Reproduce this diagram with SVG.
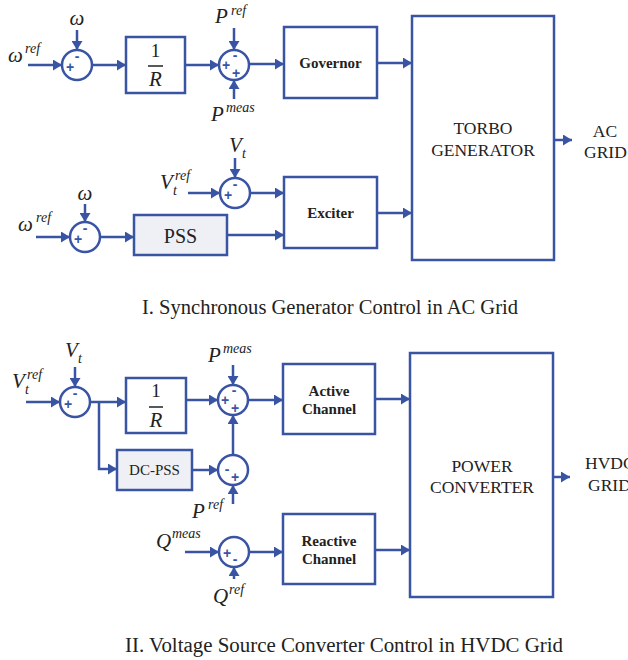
<svg xmlns="http://www.w3.org/2000/svg" width="628" height="660" viewBox="0 0 628 660">
<defs>
<marker id="ah" markerUnits="userSpaceOnUse" markerWidth="10" markerHeight="11" refX="9" refY="5.5" orient="auto">
<path d="M0,0 L9,5.5 L0,11 z" fill="#3A54A4"/>
</marker>
</defs>
<style>
.ln{fill:none;stroke:#3A54A4;stroke-width:2.5}
.ar{fill:none;stroke:#3A54A4;stroke-width:2.5;marker-end:url(#ah)}
.bx{fill:#fff;stroke:#3A54A4;stroke-width:2.5}
.gb{fill:#EEF0F5;stroke:#3A54A4;stroke-width:2.5}
.sm{fill:#fff;stroke:#3A54A4;stroke-width:2.5}
.sg{font-family:"Liberation Sans",Arial,sans-serif;font-size:14px;font-weight:bold;fill:#3A54A4;text-anchor:middle}
.m{font-family:"Liberation Serif","Times New Roman",serif;font-style:italic;font-size:21px;fill:#222}
.sp{font-family:"Liberation Serif","Times New Roman",serif;font-style:italic;font-size:14px;fill:#222}
.b{font-family:"Liberation Serif","Times New Roman",serif;font-weight:bold;font-size:15px;fill:#222;text-anchor:middle}
.t{font-family:"Liberation Serif","Times New Roman",serif;font-size:17.5px;fill:#222;text-anchor:middle}
.ts{font-family:"Liberation Serif","Times New Roman",serif;font-size:17.5px;fill:#222}
.cap{font-family:"Liberation Serif","Times New Roman",serif;font-size:20px;fill:#222}
</style>

<g id="connectors">
<!-- top section -->
<line class="ar" x1="28" y1="65" x2="62" y2="65"/>
<line class="ar" x1="77" y1="30" x2="77" y2="50"/>
<line class="ar" x1="92" y1="65" x2="126" y2="65"/>
<line class="ar" x1="185" y1="65" x2="219" y2="65"/>
<line class="ar" x1="234" y1="28" x2="234" y2="50"/>
<line class="ar" x1="234" y1="99" x2="234" y2="80"/>
<line class="ar" x1="249" y1="64" x2="284" y2="64"/>
<line class="ar" x1="377" y1="63" x2="412" y2="63"/>
<line class="ar" x1="554" y1="140" x2="572" y2="140"/>
<line class="ar" x1="235" y1="158" x2="235" y2="178"/>
<line class="ar" x1="188" y1="193" x2="220" y2="193"/>
<line class="ar" x1="250" y1="193" x2="284" y2="193"/>
<line class="ar" x1="377" y1="213" x2="412" y2="213"/>
<line class="ar" x1="85" y1="204" x2="85" y2="222"/>
<line class="ar" x1="36" y1="237" x2="70" y2="237"/>
<line class="ar" x1="100" y1="237" x2="134" y2="237"/>
<line class="ar" x1="227" y1="235" x2="284" y2="235"/>
<!-- bottom section -->
<line class="ar" x1="26" y1="402" x2="60" y2="402"/>
<line class="ar" x1="75" y1="367" x2="75" y2="387"/>
<line class="ar" x1="90" y1="402" x2="126" y2="402"/>
<polyline class="ar" points="99,402 99,469 117,469"/>
<line class="ar" x1="186" y1="400" x2="218" y2="400"/>
<line class="ar" x1="233" y1="365" x2="233" y2="385"/>
<line class="ar" x1="248" y1="400" x2="283" y2="400"/>
<line class="ar" x1="375" y1="399" x2="410" y2="399"/>
<line class="ar" x1="192" y1="470" x2="218" y2="470"/>
<line class="ar" x1="233" y1="455" x2="233" y2="415"/>
<line class="ar" x1="233" y1="504" x2="233" y2="485"/>
<line class="ar" x1="185" y1="552" x2="219" y2="552"/>
<line class="ar" x1="234" y1="579" x2="234" y2="567"/>
<line class="ar" x1="249" y1="552" x2="283" y2="552"/>
<line class="ar" x1="375" y1="550" x2="410" y2="550"/>
<line class="ar" x1="553" y1="477" x2="570" y2="477"/>
</g>

<!-- top section nodes -->
<g id="in-omega-ref1"><text class="m" x="8" y="62">ω</text><text class="sp" x="25" y="53">ref</text></g>
<g id="in-omega1"><text class="m" x="77" y="25" text-anchor="middle">ω</text></g>
<g id="sum1"><circle class="sm" cx="77" cy="65" r="15"/><text class="sg" x="77" y="61">-</text><text class="sg" x="70" y="72">+</text></g>
<g id="droop1"><rect class="bx" x="126" y="37" width="59" height="56"/>
<text class="ts" x="155.5" y="57" text-anchor="middle" style="font-size:19px">1</text>
<line x1="148" y1="66" x2="163" y2="66" stroke="#222" stroke-width="1.5"/>
<text class="m" x="155.5" y="86" text-anchor="middle">R</text></g>
<g id="in-pref1"><text class="m" x="215" y="23">P</text><text class="sp" x="231" y="15">ref</text></g>
<g id="in-pmeas1"><text class="m" x="211" y="121">P</text><text class="sp" x="226" y="112">meas</text></g>
<g id="sum2"><circle class="sm" cx="234" cy="65" r="15"/><text class="sg" x="235" y="60">-</text><text class="sg" x="226" y="70">+</text><text class="sg" x="236" y="78">+</text></g>
<g id="governor"><rect class="bx" x="284" y="27" width="93" height="71"/><text class="b" x="330.5" y="68">Governor</text></g>
<g id="torbo"><rect class="bx" x="412" y="16" width="142" height="244"/><text class="t" x="483" y="134">TORBO</text><text class="t" x="483" y="156">GENERATOR</text></g>
<g id="ac-grid"><text class="t" x="605" y="137">AC</text><text class="ts" x="584" y="158">GRID</text></g>
<g id="in-vt1"><text class="m" x="229" y="152">V</text><text class="sp" x="242" y="158">t</text></g>
<g id="in-vtref1"><text class="m" x="160" y="189">V</text><text class="sp" x="173" y="195">t</text><text class="sp" x="175" y="180">ref</text></g>
<g id="sum3"><circle class="sm" cx="235" cy="193" r="15"/><text class="sg" x="235" y="189">-</text><text class="sg" x="228" y="200">+</text></g>
<g id="exciter"><rect class="bx" x="284" y="177" width="93" height="71"/><text class="b" x="330.5" y="218">Exciter</text></g>
<g id="in-omega2"><text class="m" x="85" y="200" text-anchor="middle">ω</text></g>
<g id="in-omega-ref2"><text class="m" x="18" y="231">ω</text><text class="sp" x="36" y="222">ref</text></g>
<g id="sum4"><circle class="sm" cx="85" cy="237" r="15"/><text class="sg" x="85" y="233">-</text><text class="sg" x="78" y="244">+</text></g>
<g id="pss"><rect class="gb" x="134" y="215" width="93" height="40"/><text class="t" x="180.5" y="243" style="font-size:20px">PSS</text></g>
<g id="caption1"><text class="cap" x="142" y="314" textLength="376" lengthAdjust="spacingAndGlyphs">I. Synchronous Generator Control in AC Grid</text></g>

<!-- bottom section nodes -->
<g id="in-vt2"><text class="m" x="65" y="357">V</text><text class="sp" x="78" y="363">t</text></g>
<g id="in-vtref2"><text class="m" x="12" y="388">V</text><text class="sp" x="25" y="394">t</text><text class="sp" x="27" y="379">ref</text></g>
<g id="sum5"><circle class="sm" cx="75" cy="402" r="15"/><text class="sg" x="75" y="398">-</text><text class="sg" x="68" y="409">+</text></g>
<g id="droop2"><rect class="bx" x="126" y="378" width="60" height="55"/>
<text class="ts" x="156" y="397" text-anchor="middle" style="font-size:19px">1</text>
<line x1="149" y1="407" x2="163" y2="407" stroke="#222" stroke-width="1.5"/>
<text class="m" x="156" y="427" text-anchor="middle">R</text></g>
<g id="in-pmeas2"><text class="m" x="208" y="362">P</text><text class="sp" x="223" y="353">meas</text></g>
<g id="sum6"><circle class="sm" cx="233" cy="400" r="15"/><text class="sg" x="234" y="395">-</text><text class="sg" x="225" y="405">+</text><text class="sg" x="235" y="413">+</text></g>
<g id="active"><rect class="bx" x="283" y="364" width="92" height="70"/><text class="b" x="329" y="396">Active</text><text class="b" x="329" y="414">Channel</text></g>
<g id="dcpss"><rect class="gb" x="117" y="450" width="75" height="40"/><text class="t" x="154.5" y="475" style="font-size:15px">DC-PSS</text></g>
<g id="sum7"><circle class="sm" cx="233" cy="470" r="15"/><text class="sg" x="227" y="474">-</text><text class="sg" x="235" y="482">+</text></g>
<g id="in-pref2"><text class="m" x="192" y="518">P</text><text class="sp" x="208" y="509">ref</text></g>
<g id="in-qmeas"><text class="m" x="156" y="548">Q</text><text class="sp" x="172" y="538">meas</text></g>
<g id="sum8"><circle class="sm" cx="234" cy="552" r="15"/><text class="sg" x="227" y="558">+</text><text class="sg" x="235" y="564">-</text></g>
<g id="in-qref"><text class="m" x="213" y="603">Q</text><text class="sp" x="229" y="594">ref</text></g>
<g id="reactive"><rect class="bx" x="283" y="514" width="92" height="70"/><text class="b" x="329" y="546">Reactive</text><text class="b" x="329" y="564">Channel</text></g>
<g id="converter"><rect class="bx" x="410" y="353" width="143" height="244"/><text class="t" x="482" y="472">POWER</text><text class="t" x="482" y="493">CONVERTER</text></g>
<g id="hvdc-grid"><text class="ts" x="585" y="469">HVDC</text><text class="ts" x="588" y="491">GRID</text></g>
<g id="caption2"><text class="cap" x="125" y="652" textLength="438" lengthAdjust="spacingAndGlyphs">II. Voltage Source Converter Control in HVDC Grid</text></g>
</svg>
